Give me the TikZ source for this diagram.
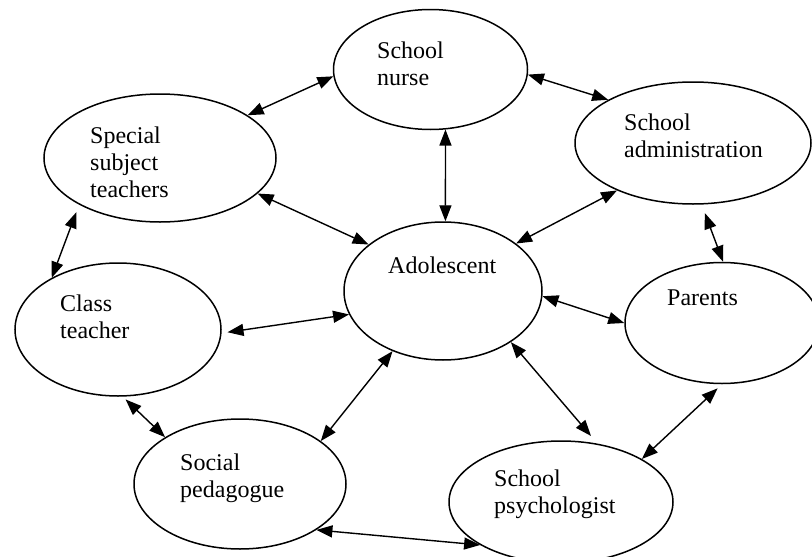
\documentclass[tikz,border=0pt]{standalone}
\usepackage{fontspec}
\setmainfont{Liberation Serif}
\usepackage{tikz}
\usetikzlibrary{arrows.meta, shapes.geometric}

\begin{document}
\begin{tikzpicture}[x=1pt, y=-1pt,
    blob/.style={draw=black, ellipse, line width=1.5pt, inner sep=0pt},
    blob_text/.style={anchor=north west, inner sep=0pt, align=left, font=\fontsize{24}{27}\selectfont},
    link/.style={{Triangle[length=16pt,width=12pt]}-{Triangle[length=16pt,width=12pt]}, line width=1.4pt}
]
    \useasboundingbox (0,0) rectangle (812,557);
    \clip (0,0) rectangle (812,557);

    % Ellipses
    \node[blob, minimum width=194pt, minimum height=120pt] (nurse) at (430.5,69.5) {};
    \node[blob, minimum width=232pt, minimum height=128pt] (sst) at (160,158) {};
    \node[blob, minimum width=236pt, minimum height=122pt] (admin) at (693,143) {};
    \node[blob, minimum width=198pt, minimum height=138pt] (ado) at (443,291) {};
    \node[blob, minimum width=206pt, minimum height=133pt] (cls) at (118,329.5) {};
    \node[blob, minimum width=194pt, minimum height=121pt] (par) at (722,323) {};
    \node[blob, minimum width=212pt, minimum height=130pt] (soc) at (240,484) {};
    \node[blob, minimum width=224pt, minimum height=122pt] (psy) at (561,502) {};

    % Texts inside the ellipses
    \node[blob_text] (nurse_t) at (377,42) {School\\nurse};
    \node[blob_text] (sst_t) at (90,127) {Special\\subject\\teachers};
    \node[blob_text] (admin_t) at (624,114) {School\\administration};
    \node[blob_text] (ado_t) at (388,257) {Adolescent};
    \node[blob_text] (cls_t) at (60,295) {Class\\teacher};
    \node[blob_text] (par_t) at (667,290) {Parents};
    \node[blob_text] (soc_t) at (180,454) {Social\\pedagogue};
    \node[blob_text] (psy_t) at (494,470) {School\\psychologist};

    % Two-way links
    \draw[link] (nurse.184) -- (sst.26);
    \draw[link] (nurse.357) -- (admin.153);
    \draw[link] (nurse.284) -- (ado.88);
    \draw[link] (sst.340) -- (ado.148);
    \draw[link] (admin.212) -- (ado.33);
    \draw[link, shorten <=9pt] (admin.278) -- (par.89);
    \draw[link, shorten <=8pt] (sst.210) -- (cls.142);
    \draw[link, shorten <=6pt] (cls.358) -- (ado.194);
    \draw[link, shorten <=4pt] (cls.274) -- (soc.148);
    \draw[link] (ado.230) -- (soc.28);
    \draw[link] (ado.357) -- (par.180);
    \draw[link, shorten >=10pt] (ado.323) -- (psy.58);
    \draw[link, shorten <=6pt] (par.270) -- (psy.28);
    \draw[link] (soc.329) -- (psy.208);

\end{tikzpicture}
\end{document}
